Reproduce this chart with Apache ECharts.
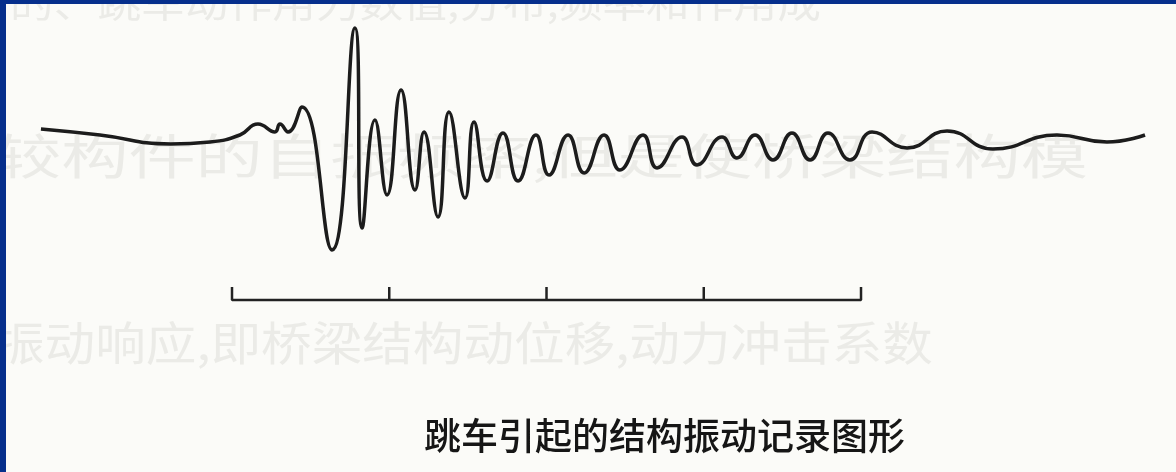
<!DOCTYPE html>
<html>
<head>
<meta charset="utf-8">
<script src="https://cdn.jsdelivr.net/npm/echarts@6/dist/echarts.min.js"></script>
<style>
  html, body { margin: 0; padding: 0; background: #fbfbf8; }
  #main { width: 1176px; height: 472px; }
</style>
</head>
<body>
<div id="main"></div>
<script>
// time in scale-bar divisions, amplitude in arbitrary units
const waveTime = [0.785, 1.16, 1.61, 1.86, 2.05, 2.165, 2.273, 2.305, 2.356, 2.445,
  2.636, 2.782, 2.827, 2.909, 2.986, 3.075, 3.164, 3.221, 3.31, 3.38,
  3.482, 3.539, 3.622, 3.723, 3.819, 3.933, 4.016, 4.137, 4.239, 4.366,
  4.467, 4.614, 4.703, 4.862, 4.957, 5.116, 5.211, 5.326, 5.44, 5.561,
  5.676, 5.79, 5.93, 6.07, 6.293, 6.547, 6.839, 7.246, 7.564, 7.806]
const waveAmp = [1.1, 0.5, -0.4, -0.2, 0.5, 1.6, 0.8, 1.6, 0.8, 3.3,
  -11.0, 11.2, -8.8, 2.0, -5.5, 5.0, -5.0, 0.8, -7.7, 2.8,
  -5.8, 1.8, -4.1, 0.7, -4.1, 0.5, -3.5, 0.5, -3.3, 0.5,
  -3.0, 0.5, -2.8, 0.3, -2.5, 0.3, -1.8, 0.5, -2.0, 0.7,
  -2.0, 0.7, -2.0, 0.8, -0.8, 0.9, -0.9, 0.5, -0.2, 0.5]

// scale bar under the record
const scaleTicks = [2, 3, 4, 5, 6]
const scaleBase = -16
const scaleTop = -14.7

const caption = '跳车引起的结构振动记录图形'
// faint show-through text of the scanned page
const ghostLines = [
  '的、跳车动作用力数值,分布,频率和作用成',
  '较构件的自振频率,但是使桥梁结构模',
  '振动响应,即桥梁结构动位移,动力冲击系数'
]

const waveData = waveTime.map((t, i) => [t, waveAmp[i]])

const barData = []
scaleTicks.forEach((t, i) => {
  barData.push([t, scaleBase])
  barData.push([t, scaleTop])
  barData.push([t, scaleBase])
})

const chart = echarts.init(document.getElementById('main'), null, { renderer: 'canvas' })

const ghost = '#ebebe7'

const option = {
  backgroundColor: '#fbfbf8',
  animation: false,
  grid: { left: 11.85, right: 16.2, top: 20, bottom: 132 },
  xAxis: { type: 'value', min: 0.6, max: 7.9, show: false },
  yAxis: { type: 'value', min: -20, max: 12, show: false },
  graphic: [
    { type: 'text', x: 10, y: -16, scaleX: 1.15, silent: true, z: 0,
      style: { text: ghostLines[0], font: '38px "Noto Sans CJK SC"', fill: ghost } },
    { type: 'text', x: -6, y: 132, scaleX: 1.4, silent: true, z: 0,
      style: { text: ghostLines[1], font: '48px "Noto Sans CJK SC"', fill: ghost } },
    { type: 'text', x: -6, y: 320, scaleX: 1.1, silent: true, z: 0,
      style: { text: ghostLines[2], font: '46px "Noto Sans CJK SC"', fill: ghost } },
    { type: 'rect', left: 0, top: 0, shape: { width: 1176, height: 4 }, style: { fill: '#062f8c' } },
    { type: 'rect', left: 0, top: 0, shape: { width: 6, height: 472 }, style: { fill: '#062f8c' } },
    { type: 'text', left: 424, top: 417, z: 10,
      style: { text: caption, font: '500 37px "Noto Sans CJK SC"', fill: '#161616' } }
  ],
  series: [
    {
      type: 'line',
      data: waveData,
      smooth: 0.5,
      showSymbol: false,
      lineStyle: { color: '#1c1c1c', width: 3.5 },
      z: 5
    },
    {
      type: 'line',
      data: barData,
      showSymbol: false,
      lineStyle: { color: '#222', width: 2.5 },
      z: 5
    }
  ]
}

chart.setOption(option)
</script>
</body>
</html>
